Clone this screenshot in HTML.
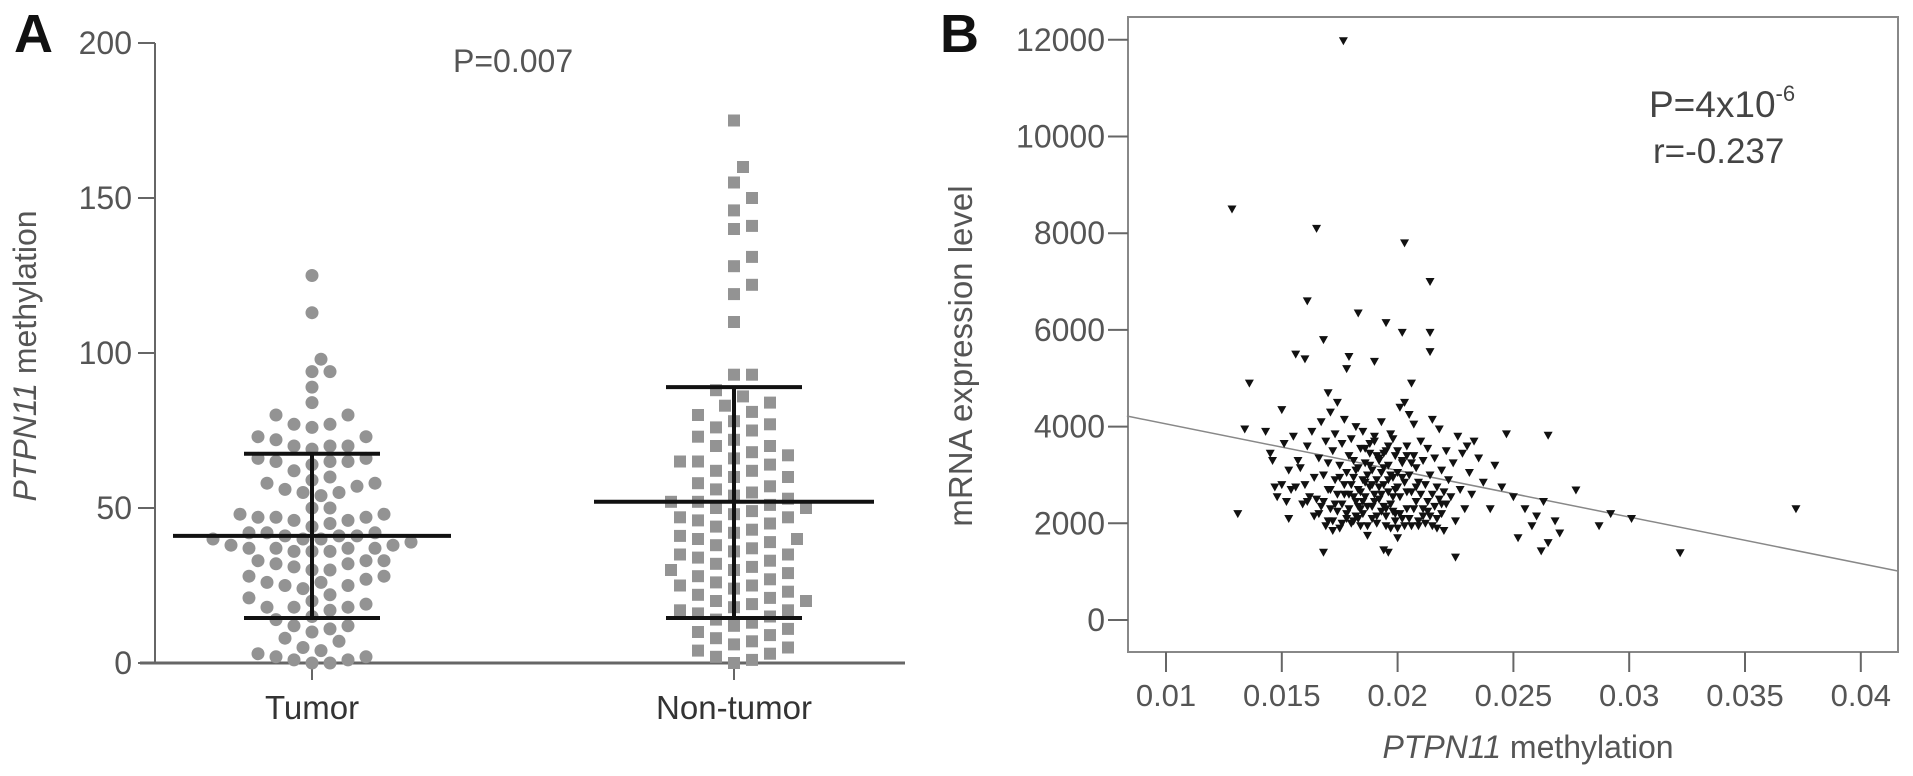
<!DOCTYPE html>
<html><head><meta charset="utf-8"><style>
html,body{margin:0;padding:0;background:#fff;}
svg{display:block;font-family:"Liberation Sans",sans-serif;}
</style></head><body>
<svg id="fig" width="1913" height="776" viewBox="0 0 1913 776" xmlns="http://www.w3.org/2000/svg">
<g id="pa"></g>
<g id="pb"></g>
</svg>
<script>
// ---------- Panel A data ----------
const groupLabels = ["Tumor","Non-tumor"];
const tumorValues = [125,113,98,94,94,89,84,80,80,77,77,76,73,72,73,70,70,70,69,65,66,66,65,65,64,62,60,58,58,59,57,56,55,55,54,50,50,48,48,47,47,47,46,46,45,44,42,42,42,41,41,41,40,40,40,39,38,38,37,37,37,37,36,36,36,33,33,33,32,32,31,30,30,28,28,27,26,26,25,25,24,22,21,20,19,18,18,18,17,15,14,12,12,11,10,8,7,5,4,3,2,2,1,1,0,0];
const nonTumorValues = [175,160,155,150,146,141,140,131,128,122,119,110,93,93,88,86,84,83,81,80,78,77,76,75,73,72,70,70,68,67,66,65,65,64,62,62,60,60,58,57,56,55,54,53,52,52,51,50,50,49,48,47,47,46,45,44,43,42,41,40,40,39,38,37,36,35,35,34,33,32,31,30,30,29,28,27,26,25,25,24,23,22,21,20,20,19,18,17,17,16,15,14,13,12,11,10,9,8,7,6,5,4,3,2,1,0];
const groupMeans = [41,52];
const groupUpper = [67.5,89];
const groupLower = [14.5,14.5];
const yTicksA = [0,50,100,150,200];

// ---------- Panel B data ----------
const methylation = [0.01766,0.01285,0.0165,0.0203,0.0214,0.0161,0.0183,0.0195,0.0202,0.0214,0.0168,0.0214,0.0156,0.0160,0.0179,0.0190,0.0136,0.0206,0.0178,0.0170,0.0150,0.0134,0.0131,0.0153,
0.0372,0.0322,0.0301,0.0292,0.0287,0.0277,0.0265,0.0262,0.0225,
0.0143,0.0145,0.0146,0.0147,0.0148,0.0150,0.0151,0.0152,0.0153,0.0154,0.0155,0.0156,0.0157,0.0158,0.0159,0.0160,0.0161,0.0162,0.0163,0.0164,0.0165,0.0166,0.0166,0.0167,0.0168,0.0168,0.0169,0.0169,0.0170,0.0170,0.0171,0.0171,0.0172,0.0172,0.0173,0.0173,0.0174,0.0174,0.0175,0.0175,0.0176,0.0176,0.0177,0.0177,0.0178,0.0178,0.0179,0.0179,0.0180,0.0180,0.0181,0.0181,0.0182,0.0182,0.0183,0.0183,0.0184,0.0184,0.0185,0.0185,0.0186,0.0186,0.0187,0.0187,0.0188,0.0188,0.0189,0.0189,0.0190,0.0190,0.0191,0.0191,0.0192,0.0192,0.0193,0.0193,0.0194,0.0194,0.0195,0.0195,0.0196,0.0196,0.0197,0.0197,0.0198,0.0198,0.0199,0.0199,0.0200,0.0200,0.0201,0.0201,0.0202,0.0202,0.0203,0.0203,0.0204,0.0204,0.0205,0.0205,0.0206,0.0206,0.0207,0.0207,0.0208,0.0208,0.0209,0.0209,0.0210,0.0210,0.0211,0.0211,0.0212,0.0212,0.0213,0.0213,0.0214,0.0214,0.0215,0.0215,0.0216,0.0216,0.0217,0.0217,0.0218,0.0218,0.0219,0.0219,0.0220,0.0220,0.0221,0.0221,0.0222,0.0223,0.0224,0.0225,0.0226,0.0227,0.0228,0.0229,0.0230,0.0231,0.0232,0.0233,0.0235,0.0237,0.0240,0.0242,0.0245,0.0247,0.0250,0.0252,0.0255,0.0258,0.0260,0.0263,0.0265,0.0268,0.0270,
0.0180,0.0182,0.0184,0.0186,0.0188,0.0190,0.0192,0.0194,0.0196,0.0198,0.0200,0.0202,0.0204,0.0206,0.0208,0.0189,0.0191,0.0193,0.0195,0.0197,0.0199,0.0185,0.0187,0.0183,0.0181,0.0179,0.0177,0.0175,0.0173,0.0171,
0.0168,0.0194,0.0196,0.0200,
0.0181,0.0183,0.0185,0.0187,0.0189,0.0191,0.0193,0.0195,0.0197,0.0199,0.0201,0.0203,0.0205,0.0207,0.0209,0.0211,0.0186,0.0188,0.0190,0.0192,0.0194,0.0196,0.0198,0.0200,0.0202,0.0204,0.0184,0.0182,0.0178,0.0176,0.0174,0.0172,0.0170,0.0167,0.0164,0.0161,0.0213,0.0215,0.0217,0.0219];
const mrnaLevel = [11980,8500,8100,7800,7000,6600,6350,6150,5950,5950,5800,5550,5500,5400,5450,5350,4900,4900,5200,4700,4350,3950,2200,2100,
2300,1390,2100,2200,1950,2690,3820,1430,1300,
3900,3450,3300,2750,2550,2800,3650,2450,3100,2700,3800,2750,3300,3150,2400,2800,3600,2550,3900,2950,2500,3350,2200,4100,3000,2450,3700,1950,3250,2700,4300,2300,3500,2050,2900,3850,2600,4500,3200,1900,2400,3650,2800,4150,3050,2200,3400,2600,3750,2000,2950,3300,2450,4000,3150,2700,3550,2300,2900,3900,2550,3250,1750,3000,2750,3450,2350,3100,2600,3700,2900,2150,3300,2500,3050,4100,2350,2800,3500,1950,2650,3200,2400,3850,2950,2250,3400,2700,3050,1900,4400,2550,3250,2100,4500,2850,3600,2300,4250,3000,2650,1950,3400,4050,2450,3150,2850,2050,3700,2600,2300,3300,2000,2800,3550,2450,2150,3000,4150,2600,2350,3350,2750,1900,2500,3950,2200,3100,2650,1850,2400,3500,2900,2550,3250,2050,3800,2700,3450,2300,3600,3050,2600,3700,3350,2850,2300,3200,2750,3850,2550,1700,2300,1950,2150,2450,1600,2050,1800,
2800,3100,2650,2850,3200,2450,2750,3150,2900,2550,2750,2950,2650,3250,2750,2800,3400,2600,2300,3000,2200,2450,2350,2100,2550,2300,2600,2950,2400,2700,
1400,1450,1400,1700,
2050,2350,2200,1950,2100,2000,2250,2150,1900,2050,2200,1950,2100,2300,1950,2150,3550,3650,3800,3350,3450,3600,3750,3500,3300,3400,1950,2150,2100,2000,2250,1850,2050,2350,2150,2450,2250,1950,2100,2400];
const xTicksB = [0.01,0.015,0.02,0.025,0.03,0.035,0.04];
const yTicksB = [0,2000,4000,6000,8000,10000,12000];
const fitX = [0.00831,0.0416];
const fitY = [4219,1013];

const NS = "http://www.w3.org/2000/svg";
function mk(parent, tag, attrs, text){
  const e = document.createElementNS(NS, tag);
  for (const k in attrs) e.setAttribute(k, attrs[k]);
  if (text !== undefined) e.textContent = text;
  parent.appendChild(e);
  return e;
}

// ================= Panel A =================
const pa = document.getElementById('pa');
const yA = v => 663 - v * 3.1;
const groupX = [312, 734];
const gray = "#555";

let t = mk(pa,'text',{x:14,y:52,'font-size':54,'font-weight':'bold',fill:'#111'},'A');



let ax = mk(pa,'line',{x1:155,y1:yA(200),x2:155,y2:663,stroke:'#666','stroke-width':2});


let xa = mk(pa,'line',{x1:140,y1:663,x2:905,y2:663,stroke:'#666','stroke-width':3});



yTicksA.forEach(v=>{
  const tk = mk(pa,'line',{x1:138,y1:yA(v),x2:155,y2:yA(v),stroke:'#666','stroke-width':2});
  
  
  const lb = mk(pa,'text',{x:132,y:yA(v)+11,'font-size':32,'text-anchor':'end',fill:gray},String(v));
  
  
});

const yt = mk(pa,'text',{transform:'translate(36,356) rotate(-90)','font-size':32,'text-anchor':'middle',fill:gray});


mk(yt,'tspan',{'font-style':'italic'},'PTPN11');
mk(yt,'tspan',{},' methylation');

const pv = mk(pa,'text',{x:453,y:72,'font-size':32,fill:gray},'P=0.007');



groupLabels.forEach((g,i)=>{
  const tk = mk(pa,'line',{x1:groupX[i],y1:663,x2:groupX[i],y2:680,stroke:'#666','stroke-width':2});
  
  
  const lb = mk(pa,'text',{x:groupX[i],y:719,'font-size':33,'text-anchor':'middle',fill:'#333'},g);
  
  
});

function swarm(vals, cx, minD){
  const placed = [];
  const sorted = vals.slice().sort((a,b)=>a-b);
  const step = 9;
  sorted.forEach(v=>{
    const y = yA(v);
    for (let k=0;k<60;k++){
      const off = (k===0)?0:((k%2===1)?1:-1)*Math.ceil(k/2)*step;
      const x = cx + off;
      let ok = true;
      for (const p of placed){
        const dx=p.x-x, dy=p.y-y;
        if (dx*dx+dy*dy < minD*minD){ok=false;break;}
      }
      if (ok){placed.push({x,y,v});break;}
    }
  });
  return placed;
}

const ptsT = swarm(tumorValues, groupX[0], 15);
ptsT.forEach(p=>{
  const c = mk(pa,'circle',{cx:p.x,cy:p.y,r:6.5,fill:'#939393'});
  
  
});
const ptsN = swarm(nonTumorValues, groupX[1], 17);
ptsN.forEach(p=>{
  const s = mk(pa,'rect',{x:p.x-6,y:p.y-6,width:12,height:12,fill:'#939393'});
  
  
});

const meanHalf = [139,140], capHalf = [68,68];
groupLabels.forEach((g,i)=>{
  const cx = groupX[i];
  const m = mk(pa,'line',{x1:cx-meanHalf[i],y1:yA(groupMeans[i]),x2:cx+meanHalf[i],y2:yA(groupMeans[i]),stroke:'#111','stroke-width':4});
  
  
  const v = mk(pa,'line',{x1:cx,y1:yA(groupUpper[i]),x2:cx,y2:yA(groupLower[i]),stroke:'#111','stroke-width':4});
  
  
  [groupUpper[i],groupLower[i]].forEach(val=>{
    const c = mk(pa,'line',{x1:cx-capHalf[i],y1:yA(val),x2:cx+capHalf[i],y2:yA(val),stroke:'#111','stroke-width':4});
    
    
  });
});

// ================= Panel B =================
const pb = document.getElementById('pb');
const xB = v => 1166 + (v-0.01)*23160;
const yB = v => 620 - v*0.04835;

let tb = mk(pb,'text',{x:940,y:52,'font-size':54,'font-weight':'bold',fill:'#111'},'B');



const box = mk(pb,'rect',{x:1128,y:17,width:770,height:635,fill:'none',stroke:'#888','stroke-width':2});



yTicksB.forEach(v=>{
  const tk = mk(pb,'line',{x1:1108,y1:yB(v),x2:1128,y2:yB(v),stroke:'#666','stroke-width':2});
  
  
  const lb = mk(pb,'text',{x:1105,y:yB(v)+11,'font-size':32,'text-anchor':'end',fill:gray},String(v));
  
  
});
xTicksB.forEach(v=>{
  const tk = mk(pb,'line',{x1:xB(v),y1:652,x2:xB(v),y2:672,stroke:'#666','stroke-width':2});
  
  
  const lb = mk(pb,'text',{x:xB(v),y:706,'font-size':31,'text-anchor':'middle',fill:gray},String(v));
  
  
});

const byt = mk(pb,'text',{transform:'translate(972,356) rotate(-90)','font-size':33,'text-anchor':'middle',fill:gray},'mRNA expression level');


const bxt = mk(pb,'text',{x:1528,y:758,'font-size':32,'text-anchor':'middle',fill:gray});


mk(bxt,'tspan',{'font-style':'italic'},'PTPN11');
mk(bxt,'tspan',{},' methylation');

const fit = mk(pb,'line',{x1:xB(fitX[0]),y1:yB(fitY[0]),x2:xB(fitX[1]),y2:yB(fitY[1]),stroke:'#888','stroke-width':1.5});



methylation.forEach((m,i)=>{
  const x = xB(m), y = yB(mrnaLevel[i]);
  const p = mk(pb,'path',{d:`M${x-4.5},${y-3.5}L${x+4.5},${y-3.5}L${x},${y+4.5}Z`,fill:'#111'});
  
  
});

const pt = mk(pb,'text',{x:1649,y:117,'font-size':37,fill:'#444'});


mk(pt,'tspan',{},'P=4x10');
mk(pt,'tspan',{'font-size':22,dy:-16},'-6');
const rt = mk(pb,'text',{x:1653,y:163,'font-size':35,fill:'#444'},'r=-0.237');


</script>
</body></html>
